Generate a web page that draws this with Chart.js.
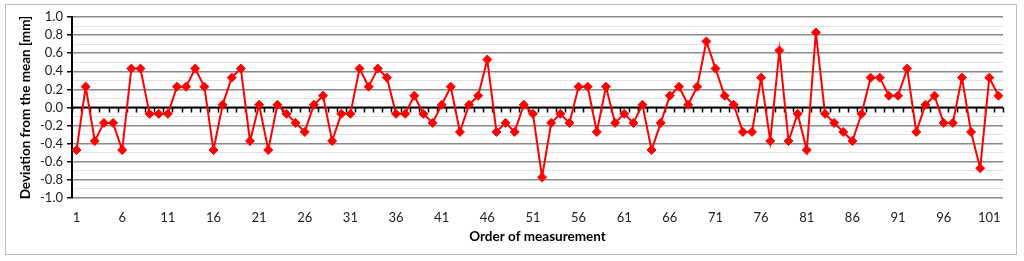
<!DOCTYPE html>
<html>
<head>
<meta charset="utf-8">
<script src="https://cdn.jsdelivr.net/npm/chart.js@4.4.1/dist/chart.umd.min.js"></script>
<style>
  html, body { margin: 0; padding: 0; background: #fff; }
  #wrap { position: relative; width: 1024px; height: 261px; }
  #frame { position: absolute; left: 5px; top: 4px; width: 1012px; height: 251px; border: 1px solid #bdbdbd; box-sizing: border-box; pointer-events: none; }
</style>
</head>
<body>
<div id="wrap">
  <canvas id="c" width="1024" height="261"></canvas>
  <div id="frame"></div>
</div>
<script>
const categories = Array.from({length: 102}, (_, i) => String(i + 1));
const deviation = [
  -0.47, 0.23, -0.37, -0.17, -0.17, -0.47, 0.43, 0.43, -0.07, -0.07,
  -0.07, 0.23, 0.23, 0.43, 0.23, -0.47, 0.03, 0.33, 0.43, -0.37,
  0.03, -0.47, 0.03, -0.07, -0.17, -0.27, 0.03, 0.13, -0.37, -0.07,
  -0.07, 0.43, 0.23, 0.43, 0.33, -0.07, -0.07, 0.13, -0.07, -0.17,
  0.03, 0.23, -0.27, 0.03, 0.13, 0.53, -0.27, -0.17, -0.27, 0.03,
  -0.07, -0.77, -0.17, -0.07, -0.17, 0.23, 0.23, -0.27, 0.23, -0.17,
  -0.07, -0.17, 0.03, -0.47, -0.17, 0.13, 0.23, 0.03, 0.23, 0.73,
  0.43, 0.13, 0.03, -0.27, -0.27, 0.33, -0.37, 0.63, -0.37, -0.07,
  -0.47, 0.83, -0.07, -0.17, -0.27, -0.37, -0.07, 0.33, 0.33, 0.13,
  0.13, 0.43, -0.27, 0.03, 0.13, -0.17, -0.17, 0.33, -0.27, -0.67,
  0.33, 0.13
];
const yMin = -1.0, yMax = 1.0, yStep = 0.1;
const xTitle = 'Order of measurement';
const yTitle = 'Deviation from the mean [mm]';

const FONT = 'Lato, "Open Sans", sans-serif';

const isMajor = v => Math.abs(Math.round(v * 10)) % 2 === 0;

const zeroAxis = {
  id: 'zeroAxis',
  beforeDatasetsDraw(chart) {
    const {ctx, scales: {x, y}, chartArea} = chart;
    const y0 = y.getPixelForValue(0);
    ctx.save();
    ctx.strokeStyle = '#000';
    ctx.lineWidth = 2;
    ctx.beginPath();
    ctx.moveTo(chartArea.left, y0);
    ctx.lineTo(chartArea.right, y0);
    ctx.stroke();
    ctx.lineWidth = 1.5;
    ctx.beginPath();
    for (let i = 0; i <= categories.length; i++) {
      const px = Math.round(x.getPixelForValue(i - 0.5)) + 0.5;
      ctx.moveTo(px, y0);
      ctx.lineTo(px, y0 + 5);
    }
    ctx.stroke();
    ctx.restore();
  }
};

new Chart(document.getElementById('c'), {
  type: 'line',
  data: {
    labels: categories,
    datasets: [{
      data: deviation,
      borderColor: '#ff0000',
      backgroundColor: '#ff0000',
      borderWidth: 2,
      pointStyle: 'rectRot',
      pointRadius: 4.5,
      pointBorderWidth: 1,
      pointBorderColor: '#ff0000',
      tension: 0
    }]
  },
  options: {
    responsive: false,
    animation: false,
    devicePixelRatio: 1,
    layout: { padding: { top: 17, right: 21, bottom: 0, left: 0 } },
    plugins: { legend: { display: false }, tooltip: { enabled: false } },
    scales: {
      x: {
        type: 'category',
        offset: true,
        grid: { display: false },
        border: { display: false },
        ticks: {
          autoSkip: false, maxRotation: 0, minRotation: 0,
          color: '#222', font: { family: FONT, size: 13 }, padding: 4,
          callback: (v, i) => (i % 5 === 0 ? categories[i] : '')
        },
        title: { display: true, text: xTitle, color: '#000', font: { family: FONT, size: 13.5, weight: 'bold' }, padding: { top: 2, bottom: 16 } },
        afterFit(s) { s.height = 63; }
      },
      y: {
        min: yMin, max: yMax,
        grid: {
          color: c => (isMajor(c.tick.value) ? '#8a8a8a' : '#e2e2e2'),
          lineWidth: c => (isMajor(c.tick.value) ? 1.5 : 1),
          tickColor: c => (isMajor(c.tick.value) ? '#000' : 'rgba(0,0,0,0)'),
          tickLength: 5
        },
        border: { color: '#000', width: 2 },
        ticks: {
          stepSize: yStep,
          autoSkip: false,
          color: '#222', font: { family: FONT, size: 13 }, padding: 4,
          callback: v => (isMajor(v) ? Number(v).toFixed(1) : '')
        },
        title: { display: true, text: yTitle, color: '#000', font: { family: FONT, size: 13.5, weight: 'bold' }, padding: { top: 18, bottom: 0 } },
        afterFit(s) { s.width = 72; }
      }
    }
  },
  plugins: [zeroAxis]
});
</script>
</body>
</html>
